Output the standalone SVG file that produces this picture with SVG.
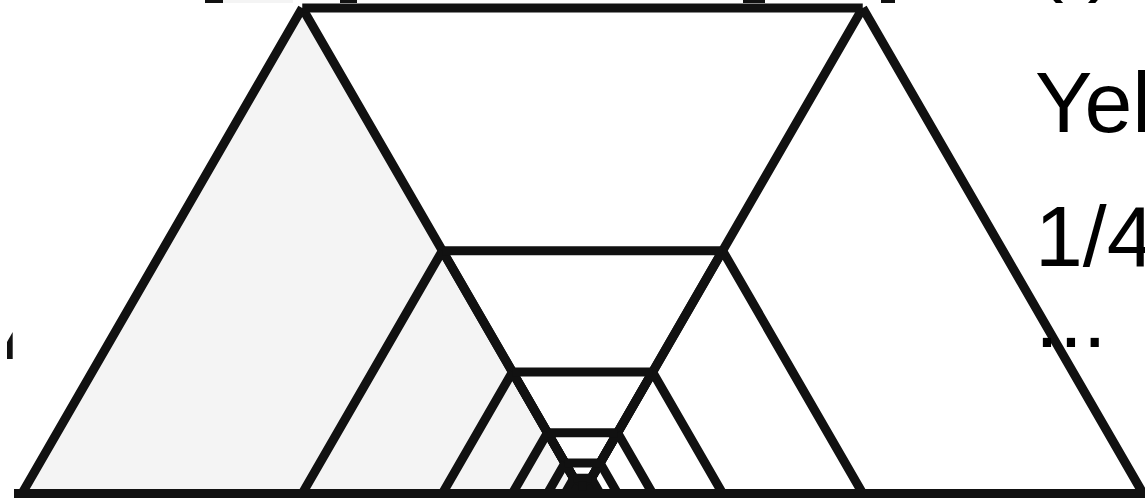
<svg xmlns="http://www.w3.org/2000/svg" width="1145" height="498" viewBox="0 0 1145 498">
  <style>
    .edge { fill: none; stroke: #111; stroke-width: 9; stroke-linejoin: miter; stroke-linecap: butt; }
    .shade { fill: #f4f4f4; stroke: none; }
    .lbl { font-family: "Liberation Sans", Arial, sans-serif; font-size: 86px; fill: #000; }
    .mark { fill: #111; }
  </style>
  <rect width="1145" height="498" fill="#fff"/>

  <g id="fragments">
    <rect class="mark" x="205" y="0" width="18" height="3"/>
    <rect class="shade" x="223" y="0" width="70" height="3"/>
    <rect class="mark" x="340" y="0" width="17" height="3"/>
    <rect class="mark" x="743" y="0" width="22" height="3"/>
    <rect class="mark" x="881" y="0" width="14" height="3"/>
    <polygon class="mark" points="7,359 12.7,359 12.7,332 7,342"/>
  </g>

  <g id="left-triangles">
    <path class="shade" d="M302.25,8 L22,493.4 L582.5,493.4 Z"/>
    <path id="L0" class="edge" d="M302.25,8 L22,493.4 L582.5,493.4 L302.25,8"/>
    <path id="L1" class="edge" d="M442.38,250.7 L302.25,493.4 L582.5,493.4 L442.38,250.7"/>
    <path id="L2" class="edge" d="M512.44,372.05 L442.38,493.4 L582.5,493.4 L512.44,372.05"/>
    <path id="L3" class="edge" d="M547.47,432.72 L512.44,493.4 L582.5,493.4 L547.47,432.72"/>
    <path id="L4" class="edge" d="M564.98,463.06 L547.47,493.4 L582.5,493.4 L564.98,463.06"/>
    <path id="L5" class="edge" d="M573.74,478.23 L564.98,493.4 L582.5,493.4 L573.74,478.23"/>
    <path id="L6" class="edge" d="M578.12,485.82 L573.74,493.4 L582.5,493.4 L578.12,485.82"/>
  </g>

  <g id="right-triangles">
    <path id="R0" class="edge" d="M862.75,8 L582.5,493.4 L1143,493.4 L862.75,8"/>
    <path id="R1" class="edge" d="M722.63,250.7 L582.5,493.4 L862.75,493.4 L722.63,250.7"/>
    <path id="R2" class="edge" d="M652.56,372.05 L582.5,493.4 L722.63,493.4 L652.56,372.05"/>
    <path id="R3" class="edge" d="M617.53,432.72 L582.5,493.4 L652.56,493.4 L617.53,432.72"/>
    <path id="R4" class="edge" d="M600.02,463.06 L582.5,493.4 L617.53,493.4 L600.02,463.06"/>
    <path id="R5" class="edge" d="M591.26,478.23 L582.5,493.4 L600.02,493.4 L591.26,478.23"/>
    <path id="R6" class="edge" d="M586.88,485.82 L582.5,493.4 L591.26,493.4 L586.88,485.82"/>
  </g>

  <g id="connectors">
    <line class="edge" x1="14" y1="493.4" x2="1145" y2="493.4"/>
    <line class="edge" x1="302.25" y1="8" x2="862.75" y2="8"/>
    <line class="edge" x1="442.38" y1="250.7" x2="722.63" y2="250.7"/>
    <line class="edge" x1="512.44" y1="372.05" x2="652.56" y2="372.05"/>
    <line class="edge" x1="547.47" y1="432.72" x2="617.53" y2="432.72"/>
    <line class="edge" x1="564.98" y1="463.06" x2="600.02" y2="463.06"/>
    <line class="edge" x1="573.74" y1="478.23" x2="591.26" y2="478.23"/>
    <line class="edge" x1="578.12" y1="485.82" x2="586.88" y2="485.82"/>
  </g>

  <g id="labels">
    <text class="lbl" x="1035" y="-15">( )</text>
    <text class="lbl" x="1035" y="132">Yel</text>
    <text class="lbl" x="1035" y="266">1/4</text>
    <text class="lbl" x="1035" y="347">...</text>
  </g>
</svg>
